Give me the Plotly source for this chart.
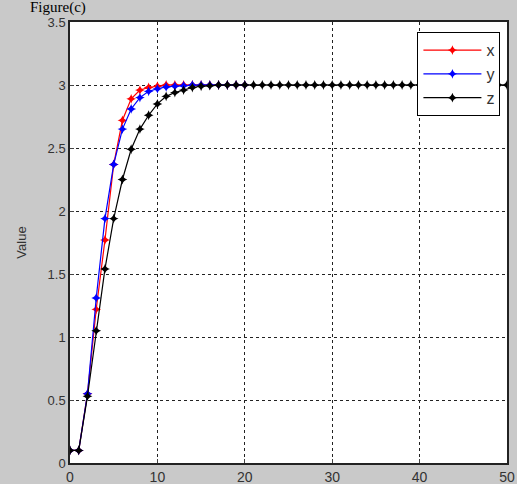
import plotly.graph_objects as go

t_xy = list(range(0, 21))
t_z = list(range(0, 51))
x_vals = [0.1, 0.1, 0.55, 1.22, 1.77, 2.37, 2.72, 2.89, 2.96, 2.98, 2.99, 3.0, 3.0, 3.0, 3.0,
          3.0, 3.0, 3.0, 3.0, 3.0, 3.0]
y_vals = [0.1, 0.1, 0.55, 1.31, 1.94, 2.37, 2.65, 2.81, 2.9, 2.95, 2.97, 2.985, 2.99, 2.995, 3.0,
          3.0, 3.0, 3.0, 3.0, 3.0, 3.0]
z_vals = [0.1, 0.1, 0.53, 1.05, 1.54, 1.94, 2.25, 2.49, 2.65, 2.76, 2.85, 2.91, 2.94, 2.96, 2.98,
          2.99, 2.995, 3.0] + [3.0] * 33

x_ticks = [0, 10, 20, 30, 40, 50]
y_ticks = [0, 0.5, 1, 1.5, 2, 2.5, 3, 3.5]
y_tick_labels = ["0", "0.5", "1", "1.5", "2", "2.5", "3", "3.5"]

fig = go.Figure()
for name, tt, vv, col in [("x", t_xy, x_vals, "#ff0000"),
                          ("y", t_xy, y_vals, "#0000ff"),
                          ("z", t_z, z_vals, "#000000")]:
    fig.add_trace(go.Scatter(
        x=tt, y=vv, name=name, mode="lines+markers",
        line=dict(color=col, width=1.2),
        marker=dict(symbol="star-diamond", size=7, color=col),
    ))

fig.update_layout(
    width=517, height=484,
    margin=dict(l=70, r=10, t=22, b=21, autoexpand=False),
    paper_bgcolor="#c9c9c9",
    plot_bgcolor="#ffffff",
    showlegend=True,
    legend=dict(x=0.795, y=0.977, xanchor="left", yanchor="top",
                bgcolor="#ffffff", bordercolor="#000000", borderwidth=1,
                font=dict(family="Arial", size=16, color="#333333"),
                tracegroupgap=0, itemwidth=58),
    font=dict(family="Arial", size=13, color="#333333"),
)
fig.update_xaxes(range=[0, 50], tickvals=x_ticks, ticks="inside", ticklen=4,
                 showline=True, linecolor="#222222", linewidth=1.5, mirror=True,
                 showgrid=True, gridcolor="#222222", griddash="dot", gridwidth=1,
                 zeroline=False, automargin=False,
                 tickfont=dict(size=14, family="Arial", color="#333333"))
fig.update_yaxes(range=[0, 3.5], tickvals=y_ticks, ticktext=y_tick_labels, ticks="inside", ticklen=4,
                 showline=True, linecolor="#222222", linewidth=1.5, mirror=True,
                 showgrid=True, gridcolor="#222222", griddash="dot", gridwidth=1,
                 zeroline=False, automargin=False,
                 title=dict(text="Value", standoff=18,
                            font=dict(size=13, family="Arial", color="#333333")),
                 tickfont=dict(size=13, family="Arial", color="#333333"))

fig.add_annotation(text="Figure(c)", xref="paper", yref="paper", x=-0.095, y=1.0,
                   xanchor="left", yanchor="bottom", yshift=4, showarrow=False,
                   font=dict(family="Liberation Serif", size=15, color="#000000"))

fig.write_html("out.html", config={"displayModeBar": False},
               post_script="document.body.style.margin='0';")
